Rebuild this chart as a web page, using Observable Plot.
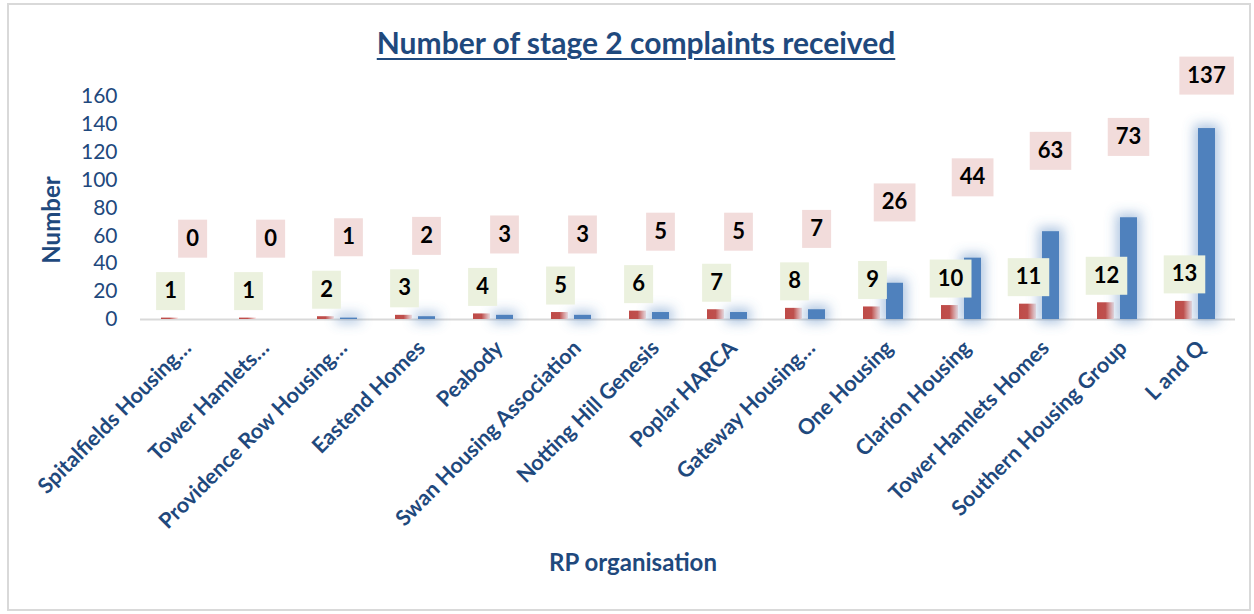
<!DOCTYPE html>
<html>
<head>
<meta charset="utf-8">
<script src="https://cdn.jsdelivr.net/npm/d3@7"></script>
<script src="https://cdn.jsdelivr.net/npm/@observablehq/plot@0.6"></script>
<style>
  body { margin: 0; background: #fff; }
  #wrap { position: relative; width: 1254px; height: 614px; overflow: hidden; font-family: Lato, sans-serif; }
  #frame { position: absolute; left: 7px; top: 3px; width: 1240px; height: 604px; border: 2px solid #D9D9D9; }
  #title { position: absolute; left: 9px; top: 25px; width: 1254px; text-align: center; font: 700 30px/34px Lato, sans-serif; color: #1F497D; }
  #title span { text-decoration: underline; text-decoration-thickness: 2px; text-underline-offset: 4px; }
  #chart { position: absolute; left: 0; top: 56px; }
</style>
</head>
<body>
<div id="wrap">
  <div id="frame"></div>
  <div id="title"><span>Number of stage 2 complaints received</span></div>
  <div id="chart"></div>
</div>
<script>
// ---- data ----
const organisations = [
  "Spitalfields Housing…", "Tower Hamlets…", "Providence Row Housing…", "Eastend Homes",
  "Peabody", "Swan Housing Association", "Notting Hill Genesis", "Poplar HARCA",
  "Gateway Housing…", "One Housing", "Clarion Housing", "Tower Hamlets Homes",
  "Southern Housing Group", "L and Q"
];
const rankValues = [1, 1, 2, 3, 4, 5, 6, 7, 8, 9, 10, 11, 12, 13];
const complaintValues = [0, 0, 1, 2, 3, 3, 5, 5, 7, 26, 44, 63, 73, 137];
const yTicks = [0, 20, 40, 60, 80, 100, 120, 140, 160];

const data = organisations.map((org, i) => ({org, rank: rankValues[i], complaints: complaintValues[i]}));

const textColor = "#1F497D";

const chart = Plot.plot({
  width: 1254,
  height: 558,
  marginLeft: 140,
  marginRight: 19,
  marginTop: 40,
  marginBottom: 295,
  style: {fontFamily: "Lato, sans-serif", background: "transparent", overflow: "visible"},
  x: {domain: organisations, padding: 0},
  y: {domain: [0, 160]},
  marks: [
    Plot.ruleY([0], {stroke: "#D9D9D9", strokeWidth: 2}),
    Plot.barY(data, {x: "org", y: "rank", fill: "url(#redgrad)", insetLeft: 19, insetRight: 42, ariaDescription: "rank-bars"}),
    Plot.barY(data, {x: "org", y: "complaints", fill: "#4F81BD", insetLeft: 42, insetRight: 19, ariaDescription: "complaint-bars"}),
    Plot.text(data, {x: "org", y: "rank", text: d => String(d.rank), dx: -11, dy: -27,
      fontSize: 22, fontWeight: "bold", fill: "#000", ariaDescription: "green-labels"}),
    Plot.text(data, {x: "org", y: d => Math.min(d.complaints + 58, 175), text: d => String(d.complaints), dx: 11,
      fontSize: 22, fontWeight: "bold", fill: "#000", ariaDescription: "pink-labels"}),
    Plot.axisY({ticks: yTicks, tickSize: 0, tickPadding: 23, fontSize: 21, color: textColor, label: null}),
    Plot.axisX({tickRotate: -45, tickSize: 0, tickPadding: 25, fontSize: 21.5, fontWeight: "bold", color: textColor, label: null, dx: 6}),
    Plot.text(["Number"], {frameAnchor: "left", textAnchor: "middle", lineAnchor: "middle", rotate: -90, dx: -88, dy: 12,
      fontSize: 24, fontWeight: "bold", fill: textColor}),
    Plot.text(["RP organisation"], {frameAnchor: "bottom", textAnchor: "middle", lineAnchor: "middle", dx: -55, dy: 244,
      fontSize: 24, fontWeight: "bold", fill: textColor})
  ]
});

document.getElementById("chart").appendChild(chart);

const svg = d3.select(chart);
const defs = svg.insert("defs", ":first-child");
const grad = defs.append("linearGradient").attr("id", "redgrad").attr("x1", 0).attr("x2", 1).attr("y1", 0).attr("y2", 0);
grad.append("stop").attr("offset", 0).attr("stop-color", "#BE4B48");
grad.append("stop").attr("offset", 0.5).attr("stop-color", "#C0504D");
grad.append("stop").attr("offset", 1).attr("stop-color", "#F7E1E1");

const f = defs.append("filter").attr("id", "glow").attr("filterUnits", "userSpaceOnUse")
  .attr("x", 0).attr("y", 0).attr("width", 1254).attr("height", 558);
f.append("feMorphology").attr("in", "SourceAlpha").attr("operator", "dilate").attr("radius", 4).attr("result", "d");
f.append("feGaussianBlur").attr("in", "d").attr("stdDeviation", 6).attr("result", "b");
f.append("feFlood").attr("flood-color", "#4F81BD").attr("flood-opacity", 0.45);
f.append("feComposite").attr("in2", "b").attr("operator", "in").attr("result", "g");
const m = f.append("feMerge");
m.append("feMergeNode").attr("in", "g");
m.append("feMergeNode").attr("in", "SourceGraphic");

svg.select('g[aria-description="complaint-bars"]').attr("filter", "url(#glow)");

function boxes(desc, color) {
  svg.select(`g[aria-description="${desc}"]`).selectAll("text").each(function () {
    const bb = this.getBBox();
    const w = bb.width + 16;
    const r = document.createElementNS("http://www.w3.org/2000/svg", "rect");
    r.setAttribute("x", bb.x + bb.width / 2 - w / 2);
    r.setAttribute("y", -19);
    r.setAttribute("width", w);
    r.setAttribute("height", 38);
    r.setAttribute("fill", color);
    const t = this.getAttribute("transform");
    if (t) r.setAttribute("transform", t);
    this.parentNode.insertBefore(r, this);
  });
}
boxes("green-labels", "#EBF1DE");
boxes("pink-labels", "#F2DCDB");
</script>
</body>
</html>
